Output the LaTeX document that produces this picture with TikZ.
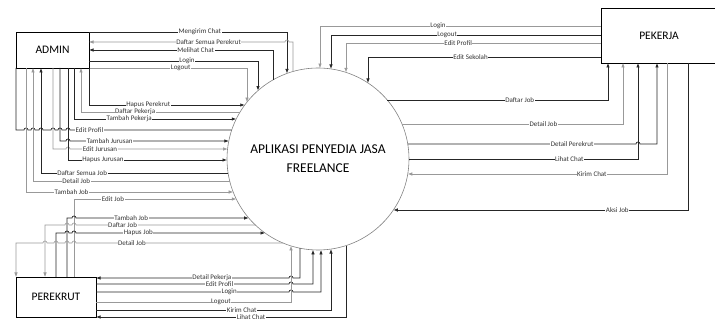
\documentclass[tikz,border=0pt]{standalone}
\usepackage{fontspec}
\setmainfont{Carlito}
\usetikzlibrary{arrows.meta, calc}

% small jump where a flow crosses another one
\newcommand{\hopR}[2]{-- ({#1-2},#2) arc[start angle=180, end angle=0, radius=2pt]}
\newcommand{\hopL}[2]{-- ({#1+2},#2) arc[start angle=0, end angle=180, radius=2pt]}

\begin{document}
\begin{tikzpicture}[
    x=1pt, y=-1pt,
    ent/.style={draw, line width=0.7pt, inner sep=0pt, outer sep=0pt, font=\fontsize{11.5}{13}\selectfont},
    dk/.style={draw=black!85, line width=0.7pt},
    lt/.style={draw=black!40, line width=0.6pt},
    arr/.style={-{Latex[length=4.5pt,width=3.5pt]}},
    lbl/.style={fill=white, inner sep=0.5pt, text=black!80, font=\fontsize{7}{8}\selectfont}
]
\useasboundingbox (0,0) rectangle (715,320);

% entities and process
\node[ent, minimum width=73pt, minimum height=36pt] (admin) at (52.5,50) {ADMIN};
\node[ent, minimum width=80pt, minimum height=40pt] (perekrut) at (56,297) {PEREKRUT};
\node[ent, minimum width=116pt, minimum height=55pt] (pekerja) at (659,35.5) {PEKERJA};
\node[circle, draw=black!50, line width=0.6pt, minimum size=182pt, inner sep=0pt, outer sep=0pt,
      align=center, font=\fontsize{13.5}{19}\selectfont] (sys) at (318,159) {APLIKASI PENYEDIA JASA\\FREELANCE};

% points on the process border
\foreach \y in {105,112,119,130,141,149,160,173,181,192,199,218,225,233,243}
    \coordinate (pL\y) at ($(sys.center)+({-sqrt(8281-(\y-159)*(\y-159))},{\y-159})$);
\foreach \y in {100,124,144,159,174,210}
    \coordinate (pR\y) at ($(sys.center)+({sqrt(8281-(\y-159)*(\y-159))},{\y-159})$);
\foreach \x in {247,258,273,287,293,320,331,346,368}
    \coordinate (pT\x) at ($(sys.center)+({\x-318},{-sqrt(8281-(\x-318)*(\x-318))})$);
\foreach \x in {291,300,313,321,331,346}
    \coordinate (pB\x) at ($(sys.center)+({\x-318},{sqrt(8281-(\x-318)*(\x-318))})$);

% admin
\draw[dk,arr] (admin.east |- 0,32) -| node[lbl,pos=0.28]{Mengirim Chat} (pT287);
\draw[lt,arr] (pT293) -- (293,42) \hopL{287}{42} -- node[lbl,pos=0.39]{Daftar Semua Perekrut} (admin.east |- 0,42);
\draw[dk,arr] (pT273) |- node[lbl,pos=0.71]{Melihat Chat} (admin.east |- 0,50);
\draw[dk,arr,line width=0.9pt] (admin.east |- 0,61) -| node[lbl,pos=0.29]{Login} (pT258);
\draw[lt,arr] (admin.south east) -| node[lbl,pos=0.29]{Logout} (pT247);
\draw[dk,arr] (admin.south east) |- node[lbl,pos=0.69]{Hapus Perekrut} (pL105);
\draw[lt,arr] (pL112) -| node[lbl,pos=0.33]{Daftar Pekerja} (81,0 |- admin.south);
\draw[dk,arr] (74,0 |- admin.south) |- node[lbl,pos=0.67]{Tambah Pekerja} (pL119);
\draw[dk] (admin.south west) -- (16,130) \hopR{26}{130} \hopR{33}{130} \hopR{41}{130}
    \hopR{53}{130} \hopR{60}{130} \hopR{68}{130} -- node[lbl,pos=0.12]{Edit Profil} (pL130);
\draw[dk,arr] (60,0 |- admin.south) -- (60,141) \hopR{68}{141} -- node[lbl,pos=0.25]{Tambah Jurusan} (pL141);
\draw[lt,arr] (53,0 |- admin.south) -- (53,149) \hopR{68}{149} -- node[lbl,pos=0.19]{Edit Jurusan} (pL149);
\draw[dk,arr] (68,0 |- admin.south) |- node[lbl,pos=0.61]{Hapus Jurusan} (pL160);
\draw[dk,arr] (pL173) -| node[lbl,pos=0.39]{Daftar Semua Job} (41,0 |- admin.south);
\draw[lt,arr] (pL181) -| node[lbl,pos=0.39]{Detail Job} (33,0 |- admin.south);
\draw[lt,arr] (26,0 |- admin.south) |- node[lbl,pos=0.61]{Tambah Job} (pL192);

% perekrut
\draw[lt,arr] (74,0 |- perekrut.north) |- node[lbl,pos=0.62]{Edit Job} (pL199);
\draw[dk,arr] (67,0 |- perekrut.north) -- (67,218) \hopR{74}{218} -- node[lbl,pos=0.32]{Tambah Job} (pL218);
\draw[lt,arr] (pL225) -- node[lbl,pos=0.74]{Daftar Job} (76,225) arc[start angle=0, end angle=180, radius=2pt]
    \hopL{67}{225} -| (45,0 |- perekrut.north);
\draw[dk,arr] (56,0 |- perekrut.north) -- (56,233) \hopR{67}{233} \hopR{74}{233} -- node[lbl,pos=0.33]{Hapus Job} (pL233);
\draw[lt,arr] (pL243) -- node[lbl,pos=0.73]{Detail Job} (76,243) arc[start angle=0, end angle=180, radius=2pt]
    \hopL{67}{243} \hopL{56}{243} \hopL{45}{243} -| (perekrut.north west);
\draw[dk,arr] (pB300) -- (300,278) \hopL{291}{278} -- node[lbl,pos=0.4]{Detail Pekerja} (perekrut.east |- 0,278);
\draw[dk,arr] (perekrut.east |- 0,284) -- node[lbl,pos=0.64]{Edit Profil} (289,284)
    arc[start angle=180, end angle=0, radius=2pt] -| (pB313);
\draw[dk,arr] (perekrut.east |- 0,292) -- node[lbl,pos=0.69]{Login} (289,292)
    arc[start angle=180, end angle=0, radius=2pt] -| (pB321);
\draw[lt,arr] (perekrut.east |- 0,302) -| node[lbl,pos=0.32]{Logout} (pB291);
\draw[dk,arr] (perekrut.east |- 0,310) -| node[lbl,pos=0.31]{Kirim Chat} (pB331);
\draw[dk,arr] (pB346) |- node[lbl,pos=0.69]{Lihat Chat} (perekrut.south east);

% pekerja
\draw[lt,arr] (pekerja.west |- 0,26) -| node[lbl,pos=0.29]{Login} (pT320);
\draw[dk,arr] (pekerja.west |- 0,35) -| node[lbl,pos=0.285]{Logout} (pT331);
\draw[lt,arr] (pekerja.west |- 0,43) -| node[lbl,pos=0.28]{Edit Profil} (pT346);
\draw[dk,arr] (pekerja.west |- 0,57) -| node[lbl,pos=0.28]{Edit Sekolah} (pT368);
\draw[dk,arr] (pR100) -| node[lbl,pos=0.30]{Daftar Job} (608,0 |- pekerja.south);
\draw[lt,arr] (pR124) -| node[lbl,pos=0.32]{Detail Job} (623,0 |- pekerja.south);
\draw[dk,arr] (pR144) -- node[lbl,pos=0.72]{Detail Perekrut} (636,144)
    arc[start angle=180, end angle=0, radius=2pt] -| (657,0 |- pekerja.south);
\draw[dk,arr] (pR159) -| node[lbl,pos=0.35]{Lihat Chat} (638,0 |- pekerja.south);
\draw[lt,arr] (667,0 |- pekerja.south) |- node[lbl,pos=0.645]{Kirim Chat} (pR174);
\draw[dk,arr] (688,0 |- pekerja.south) |- node[lbl,pos=0.62]{Aksi Job} (pR210);
\end{tikzpicture}
\end{document}
